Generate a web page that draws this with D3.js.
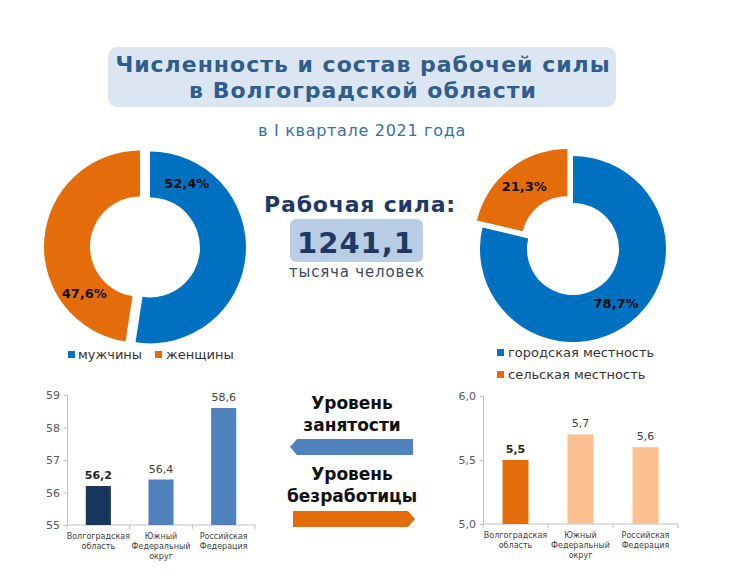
<!DOCTYPE html>
<html>
<head>
<meta charset="utf-8">
<script src="https://cdn.jsdelivr.net/npm/d3@7"></script>
<style>
  body { margin: 0; background: #fff; }
  text { font-family: "DejaVu Sans", Verdana, sans-serif; }
</style>
</head>
<body>
<div id="wrap"></div>
<script>
var w = 753;
var h = 577;

// данные
var genderLabels = ["мужчины", "женщины"];
var genderValues = [52.4, 47.6];
var areaLabels = ["городская местность", "сельская местность"];
var areaValues = [78.7, 21.3];
var laborForce = "1241,1";
var regions = [["Волгоградская", "область"], ["Южный", "Федеральный", "округ"], ["Российская", "Федерация"]];
var employment = [56.2, 56.4, 58.6];
var unemployment = [5.5, 5.7, 5.6];
var employmentTicks = [55, 56, 57, 58, 59];
var unemploymentTicks = [5.0, 5.5, 6.0];

var blue = "#0070c0", orange = "#e46c0a";
var comma = function(f) { return function(v) { return d3.format(f)(v).replace(".", ","); }; };

var svg = d3.select("#wrap").append("svg").attr("width", w).attr("height", h);

// заголовок
svg.append("rect").attr("x", 108).attr("y", 47).attr("width", 508).attr("height", 60)
  .attr("rx", 9).attr("fill", "#dce6f2");
svg.append("text").attr("x", 363).attr("y", 72).attr("text-anchor", "middle")
  .attr("font-size", 22).attr("font-weight", "bold").attr("fill", "#2f5d8c")
  .attr("letter-spacing", 1)
  .text("Численность и состав рабочей силы");
svg.append("text").attr("x", 363).attr("y", 98).attr("text-anchor", "middle")
  .attr("font-size", 22).attr("font-weight", "bold").attr("fill", "#2f5d8c")
  .attr("letter-spacing", 1)
  .text("в Волгоградской области");
svg.append("text").attr("x", 362).attr("y", 136).attr("text-anchor", "middle")
  .attr("font-size", 16).attr("fill", "#3a6ea5").attr("letter-spacing", 0.7)
  .text("в I квартале 2021 года");

// центр
svg.append("text").attr("x", 360).attr("y", 212).attr("text-anchor", "middle")
  .attr("font-size", 22).attr("font-weight", "bold").attr("fill", "#1f3864")
  .attr("letter-spacing", 0.8)
  .text("Рабочая сила:");
svg.append("rect").attr("x", 290).attr("y", 219).attr("width", 133).attr("height", 43)
  .attr("rx", 6).attr("fill", "#b9cde5");
svg.append("text").attr("x", 356).attr("y", 253).attr("text-anchor", "middle")
  .attr("font-size", 29).attr("font-weight", "bold").attr("fill", "#1f3864")
  .attr("letter-spacing", 1)
  .text(laborForce);
svg.append("text").attr("x", 357).attr("y", 277).attr("text-anchor", "middle")
  .attr("font-size", 15).attr("fill", "#3b4a5c").attr("letter-spacing", 0.8)
  .text("тысяча человек");

function donut(cx, cy, R, r, values, labels, explode, labelFrac) {
  var g = svg.append("g").attr("transform", "translate(" + cx + "," + cy + ")");
  var pie = d3.pie().sort(null)(values);
  var arc = d3.arc().innerRadius(r).outerRadius(R);
  var colors = [blue, orange];
  pie.forEach(function(p, i) {
    var mid = (p.startAngle + p.endAngle) / 2;
    var dx = Math.sin(mid) * explode[i], dy = -Math.cos(mid) * explode[i];
    var sg = g.append("g").attr("transform", "translate(" + dx + "," + dy + ")");
    sg.append("path").attr("d", arc(p)).attr("fill", colors[i]);
    var a = p.startAngle + (p.endAngle - p.startAngle) * labelFrac[i];
    var lr = (R + r) / 2;
    sg.append("text").attr("x", Math.sin(a) * lr).attr("y", -Math.cos(a) * lr + 4)
      .attr("text-anchor", "middle").attr("font-size", 13).attr("font-weight", "bold")
      .attr("fill", "#111").text(comma(".1f")(p.data) + "%");
  });
}
donut(145, 247, 96, 50, genderValues, genderLabels, [5, 5], [0.16, 0.24]);
donut(573, 249, 93, 46, areaValues, areaLabels, [0, 9], [0.5, 0.5]);

// легенды
var lg1 = svg.append("g");
[[68, 78], [155, 166]].forEach(function(p, i) {
  lg1.append("rect").attr("x", p[0]).attr("y", 351).attr("width", 7).attr("height", 7)
    .attr("fill", i ? orange : blue);
  lg1.append("text").attr("x", p[1]).attr("y", 359).attr("font-size", 13).attr("fill", "#333")
    .text(genderLabels[i]);
});
[357, 379].forEach(function(y, i) {
  svg.append("rect").attr("x", 497).attr("y", y - 8).attr("width", 7).attr("height", 7)
    .attr("fill", i ? orange : blue);
  svg.append("text").attr("x", 508).attr("y", y).attr("font-size", 13).attr("fill", "#333")
    .text(areaLabels[i]);
});

function bars(x0, x1, y0, y1, domain, ticks, tickFmt, values, colors) {
  var x = d3.scaleBand().domain(d3.range(values.length)).range([x0, x1]).paddingInner(0.6).paddingOuter(0.3);
  var y = d3.scaleLinear().domain(domain).range([y0, y1]);
  var g = svg.append("g");
  var ya = g.append("g").attr("transform", "translate(" + x0 + ",0)")
    .call(d3.axisLeft(y).tickValues(ticks).tickFormat(tickFmt).tickSize(3).tickPadding(4));
  ya.select(".domain").attr("stroke", "#bfbfbf");
  ya.selectAll(".tick line").attr("stroke", "#bfbfbf");
  ya.selectAll(".tick text").attr("font-size", 11).attr("fill", "#595959")
    .attr("font-family", "DejaVu Sans, Verdana, sans-serif");
  var step = (x1 - x0) / values.length;
  g.append("line").attr("x1", x0).attr("x2", x1).attr("y1", y0).attr("y2", y0).attr("stroke", "#bfbfbf");
  d3.range(values.length + 1).forEach(function(i) {
    g.append("line").attr("x1", x0 + i * step).attr("x2", x0 + i * step)
      .attr("y1", y0).attr("y2", y0 + 4).attr("stroke", "#bfbfbf");
  });
  g.selectAll(".bar").data(values).enter().append("rect")
    .attr("x", function(d, i) { return x(i); })
    .attr("width", x.bandwidth())
    .attr("y", function(d) { return y(d); })
    .attr("height", function(d) { return y0 - y(d); })
    .attr("fill", function(d, i) { return colors[i]; });
  g.selectAll(".val").data(values).enter().append("text")
    .attr("x", function(d, i) { return x(i) + x.bandwidth() / 2; })
    .attr("y", function(d) { return y(d) - 7; })
    .attr("text-anchor", "middle").attr("font-size", 11)
    .attr("font-weight", function(d, i) { return i ? "normal" : "bold"; })
    .attr("fill", function(d, i) { return i ? "#404040" : "#222"; })
    .text(function(d) { return comma(".1f")(d); });
  regions.forEach(function(lines, i) {
    var t = g.append("text").attr("text-anchor", "middle").attr("font-size", 8).attr("fill", "#404040");
    lines.forEach(function(s, k) {
      t.append("tspan").attr("x", x0 + (i + 0.5) * step).attr("y", y0 + 14 + k * 10).text(s);
    });
  });
}
bars(67, 255, 525, 395, [55, 59], employmentTicks, d3.format("d"), employment, ["#17375e", "#4f81bd", "#4f81bd"]);
bars(483, 678, 524, 396, [5, 6], unemploymentTicks, comma(".1f"), unemployment, [orange, "#fac090", "#fac090"]);

// стрелки
function label2(y, a, b) {
  var t = svg.append("text").attr("text-anchor", "middle").attr("font-size", 17)
    .attr("font-weight", "bold").attr("fill", "#111");
  t.append("tspan").attr("x", 352).attr("y", y).text(a);
  t.append("tspan").attr("x", 352).attr("y", y + 22).text(b);
}
label2(409, "Уровень", "занятости");
label2(480, "Уровень", "безработицы");
svg.append("path").attr("d", "M290,447 L297,439 L413,439 L413,455 L297,455 Z").attr("fill", "#4f81bd");
svg.append("path").attr("d", "M293,511 L408,511 L415,519 L408,527 L293,527 Z").attr("fill", orange);
</script>
</body>
</html>
